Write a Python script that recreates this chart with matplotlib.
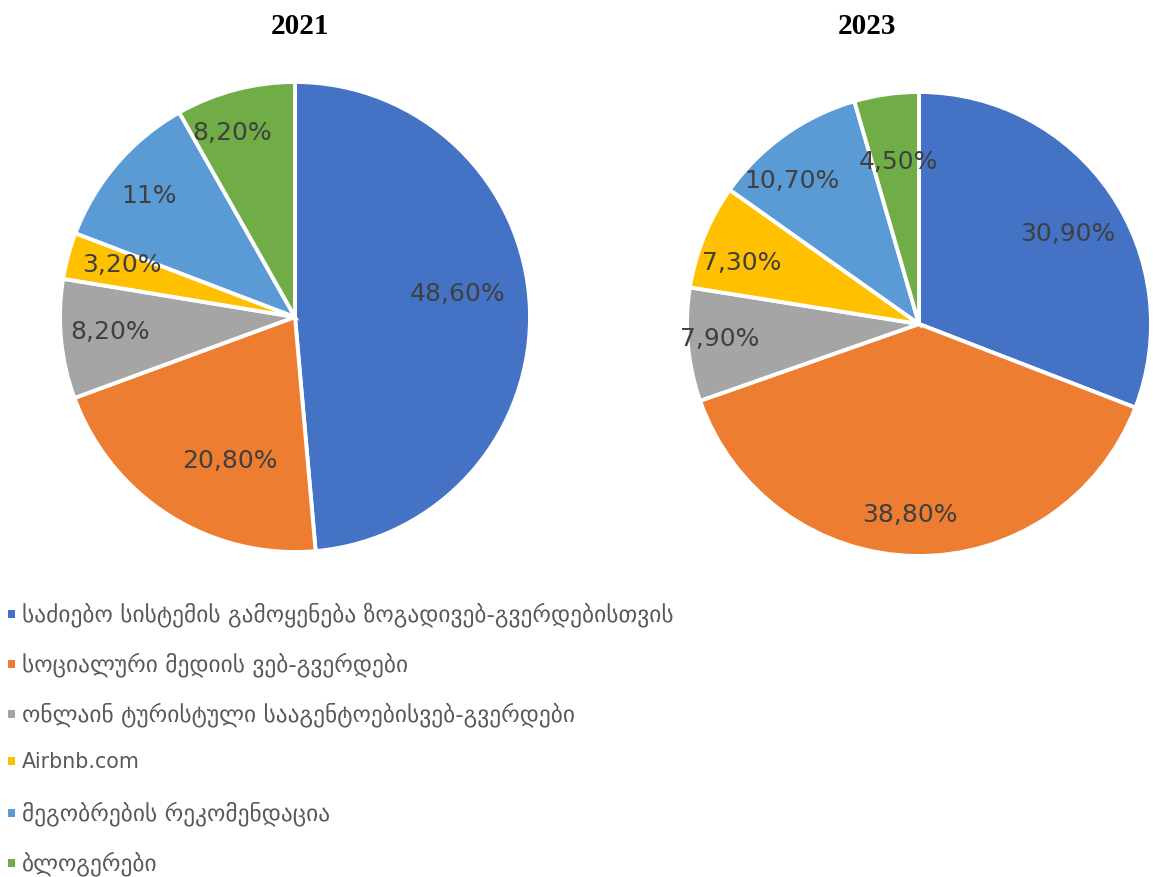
import matplotlib
matplotlib.use("Agg")
import matplotlib.pyplot as plt
from matplotlib.patches import Rectangle
import numpy as np

categories = [
    "საძიებო სისტემის გამოყენება ზოგადივებ-გვერდებისთვის",
    "სოციალური მედიის ვებ-გვერდები",
    "ონლაინ ტურისტული სააგენტოებისვებ-გვერდები",
    "Airbnb.com",
    "მეგობრების რეკომენდაცია",
    "ბლოგერები",
]
years = ["2021", "2023"]
values_2021 = [48.6, 20.8, 8.2, 3.2, 11.0, 8.2]
values_2023 = [30.9, 38.8, 7.9, 7.3, 10.7, 4.5]
labels_2021 = ["48,60%", "20,80%", "8,20%", "3,20%", "11%", "8,20%"]
labels_2023 = ["30,90%", "38,80%", "7,90%", "7,30%", "10,70%", "4,50%"]

colors = ["#4472C4", "#ED7D31", "#A5A5A5", "#FFC000", "#5B9BD5", "#70AD47"]

W, H = 1153, 878
fig = plt.figure(figsize=(W / 100, H / 100), dpi=100)

def px_axes(cx, cy, r):
    return fig.add_axes([(cx - r) / W, (H - cy - r) / H, 2 * r / W, 2 * r / H])

# label radial distances / angle tweaks (style)
dist_2021 = [0.70, 0.67, 0.79, 0.77, 0.81, 0.83]
dist_2023 = [0.75, 0.82, 0.86, 0.81, 0.83, 0.71]
angle_adj_2021 = [6, 8, -1, -2, 1, 4]
angle_adj_2023 = [-3, -2, -1, 3, 6, -1]

def draw_pie(ax, vals, labs, dists, adj):
    wedges, _ = ax.pie(vals, colors=colors, startangle=90, counterclock=False,
                       radius=1.0, wedgeprops=dict(edgecolor="white", linewidth=2.8))
    for w, lab, d, a in zip(wedges, labs, dists, adj):
        mid = np.deg2rad((w.theta1 + w.theta2) / 2 + a)
        ax.text(d * np.cos(mid), d * np.sin(mid), lab, ha="center", va="center",
                fontsize=18, color="#404040", family="DejaVu Sans")
    ax.set_xlim(-1, 1)
    ax.set_ylim(-1, 1)
    ax.set_aspect("equal")
    ax.axis("off")
    return wedges

ax1 = px_axes(295, 318, 235)
draw_pie(ax1, values_2021, labels_2021, dist_2021, angle_adj_2021)
ax2 = px_axes(919, 325, 232)
draw_pie(ax2, values_2023, labels_2023, dist_2023, angle_adj_2023)

fig.text(300 / W, 1 - 27 / H, years[0], ha="center", va="center", fontsize=21,
         fontweight="bold", family="Liberation Serif", color="black")
fig.text(867 / W, 1 - 27 / H, years[1], ha="center", va="center", fontsize=21,
         fontweight="bold", family="Liberation Serif", color="black")

row_y = [615, 665, 715, 762, 814, 864]
for cat, col, y in zip(categories, colors, row_y):
    fig.add_artist(Rectangle((8 / W, 1 - (y + 4) / H), 7 / W, 8 / H,
                             transform=fig.transFigure, color=col, lw=0))
    fs = 14.8 if cat.isascii() else 16.8
    fig.text(22 / W, 1 - y / H, cat, ha="left", va="center", fontsize=fs,
             color="#595959", family="DejaVu Sans")

fig.savefig("out.png", dpi=100)
